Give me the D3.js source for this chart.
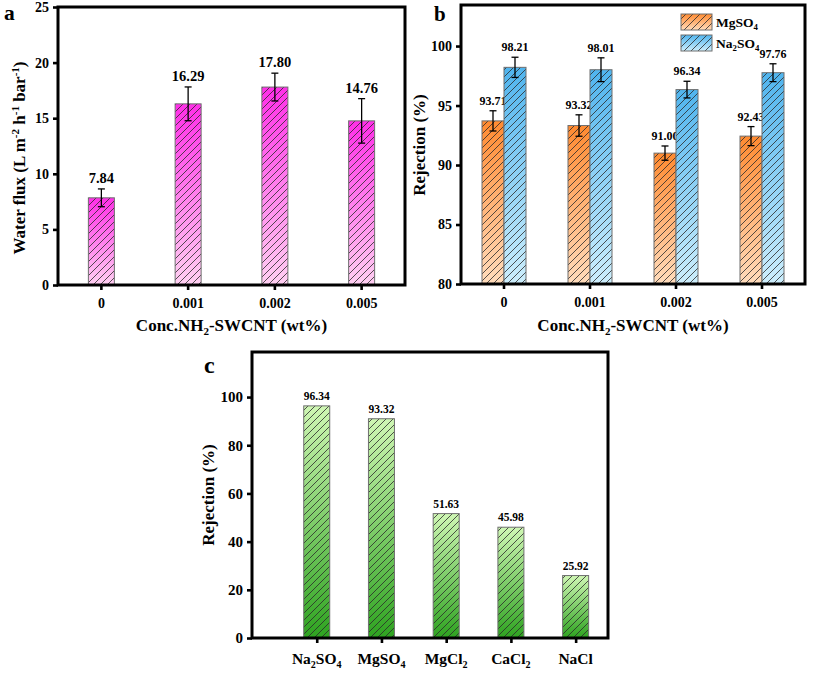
<!DOCTYPE html>
<html>
<head>
<meta charset="utf-8">
<script src="https://cdn.jsdelivr.net/npm/d3@7"></script>
<style>
  html, body { margin: 0; padding: 0; background: #fff; }
  svg text { font-family: "Liberation Serif", Tinos, "Times New Roman", "DejaVu Serif", serif !important; font-weight: bold; fill: #000; }
</style>
</head>
<body>
<svg id="chart" width="813" height="673"></svg>
<script>
// ---------- data ----------
const fluxCats = ["0", "0.001", "0.002", "0.005"];
const fluxValues = [7.84, 16.29, 17.80, 14.76];
const fluxErrors = [0.80, 1.52, 1.25, 2.00];
const fluxLabels = ["7.84", "16.29", "17.80", "14.76"];
const yTicksA = [0, 5, 10, 15, 20, 25];

const rejCats = ["0", "0.001", "0.002", "0.005"];
const seriesNames = ["MgSO4", "Na2SO4"];
const mgso4Values = [93.71, 93.32, 91.00, 92.43];
const mgso4Errors = [0.85, 0.90, 0.60, 0.80];
const na2so4Values = [98.21, 98.01, 96.34, 97.76];
const na2so4Errors = [0.85, 1.00, 0.70, 0.75];
const yTicksB = [80, 85, 90, 95, 100];

const saltCats = ["Na2SO4", "MgSO4", "MgCl2", "CaCl2", "NaCl"];
const saltBarValues = [96.34, 91.0, 51.63, 45.98, 25.92];
const saltLabels = ["96.34", "93.32", "51.63", "45.98", "25.92"];
const yTicksC = [0, 20, 40, 60, 80, 100];

// ---------- helpers ----------
const FONT = '"Liberation Serif", Tinos, "Times New Roman", "DejaVu Serif", serif';
const svg = d3.select("#chart").attr("font-family", FONT);
const defs = svg.append("defs");

function gradient(id, top, bottom) {
  const g = defs.append("linearGradient").attr("id", id)
    .attr("x1", 0).attr("y1", 0).attr("x2", 0).attr("y2", 1);
  g.append("stop").attr("offset", "0%").attr("stop-color", top);
  g.append("stop").attr("offset", "100%").attr("stop-color", bottom);
}
gradient("gPink", "#ff2ee8", "#ffd0f2");
gradient("gOrange", "#ff8a30", "#ffdcbc");
gradient("gBlue", "#4fb4ee", "#cdeefc");
gradient("gGreen", "#cff7b4", "#2ea320");

const hp = defs.append("pattern").attr("id", "hatch")
  .attr("patternUnits", "userSpaceOnUse").attr("width", 7).attr("height", 7);
hp.append("path").attr("d", "M0,7 L7,0 M-1,1 L1,-1 M6,8 L8,6")
  .attr("stroke", "#2a2a2a").attr("stroke-width", 0.8).attr("fill", "none");

function chemText(sel, str, size) {
  const parts = str.match(/[A-Za-z\.\-\s\(\)%]+|\d+/g);
  parts.forEach((p, i) => {
    const isSub = /^\d+$/.test(p) && i > 0;
    sel.append("tspan").text(p)
      .attr("font-size", isSub ? size * 0.65 : size)
      .attr("dy", isSub ? size * 0.25 : (i > 0 && /^\d+$/.test(parts[i - 1]) ? -size * 0.25 : 0));
  });
}

function richText(sel, parts, size) {
  let prev = 0;
  parts.forEach(([t, kind]) => {
    const off = kind === "sub" ? size * 0.25 : kind === "sup" ? -size * 0.38 : 0;
    sel.append("tspan").text(t)
      .attr("font-size", kind ? size * 0.65 : size)
      .attr("dy", off - prev);
    prev = off;
  });
}

function bar(g, x, y, w, h, grad) {
  g.append("rect").attr("x", x).attr("y", y).attr("width", w).attr("height", h)
    .attr("fill", `url(#${grad})`);
  g.append("rect").attr("x", x).attr("y", y).attr("width", w).attr("height", h)
    .attr("fill", "url(#hatch)").attr("stroke", "#6f6f6f").attr("stroke-width", 1);
}

function errBar(g, cx, yTop, yBot, cap) {
  g.append("line").attr("x1", cx).attr("x2", cx).attr("y1", yTop).attr("y2", yBot)
    .attr("stroke", "#000").attr("stroke-width", 1.3);
  [yTop, yBot].forEach(yy => g.append("line")
    .attr("x1", cx - cap).attr("x2", cx + cap).attr("y1", yy).attr("y2", yy)
    .attr("stroke", "#000").attr("stroke-width", 1.3));
}

function styleAxis(a, fs) {
  a.attr("font-family", FONT);
  a.select(".domain").remove();
  a.selectAll(".tick line").attr("stroke", "#000").attr("stroke-width", 2.6);
  a.selectAll(".tick text").attr("font-size", fs).attr("font-weight", "bold");
}

function frame(g, x0, y0, x1, y1) {
  g.append("rect").attr("x", x0).attr("y", y0).attr("width", x1 - x0).attr("height", y1 - y0)
    .attr("fill", "none").attr("stroke", "#000").attr("stroke-width", 3);
}

// ---------- panel a ----------
{
  const x0 = 58, x1 = 405, y0 = 7, y1 = 285;
  const g = svg.append("g");
  const x = d3.scaleBand().domain(fluxCats).range([x0, x1]);
  const y = d3.scaleLinear().domain([0, 25]).range([y1, y0]);
  const bw = 26;
  fluxCats.forEach((c, i) => {
    const cx = x(c) + x.bandwidth() / 2;
    bar(g, cx - bw / 2, y(fluxValues[i]), bw, y(0) - y(fluxValues[i]), "gPink");
    const top = y(fluxValues[i] + fluxErrors[i]);
    errBar(g, cx, top, y(fluxValues[i] - fluxErrors[i]), 3.5);
    g.append("text").attr("x", cx).attr("y", top - 6).attr("text-anchor", "middle")
      .attr("font-size", 14.5).text(fluxLabels[i]);
  });
  frame(g, x0, y0, x1, y1);
  const ax = g.append("g").attr("transform", `translate(0,${y1})`)
    .call(d3.axisBottom(x).tickSize(5).tickPadding(8).tickSizeOuter(0));
  styleAxis(ax, 14);
  const ay = g.append("g").attr("transform", `translate(${x0},0)`)
    .call(d3.axisLeft(y).tickValues(yTicksA).tickSize(5).tickPadding(4).tickSizeOuter(0));
  styleAxis(ay, 14);
  const xt = g.append("text").attr("x", (x0 + x1) / 2).attr("y", 331).attr("text-anchor", "middle");
  richText(xt, [["Conc.NH"], ["2", "sub"], ["-SWCNT (wt%)"]], 17);
  const yt = g.append("text").attr("transform", `translate(25,158) rotate(-90)`).attr("text-anchor", "middle");
  richText(yt, [["Water flux (L m"], ["-2", "sup"], [" h"], ["-1", "sup"], [" bar"], ["-1", "sup"], [")"]], 17);
  g.append("text").attr("x", 4).attr("y", 20).attr("font-size", 21.5).text("a");
}

// ---------- panel b ----------
{
  const x0 = 461, x1 = 805, y0 = 5, y1 = 284;
  const g = svg.append("g");
  const x = d3.scaleBand().domain(rejCats).range([x0, x1]);
  const y = d3.scaleLinear().domain([80, 103.45]).range([y1, y0]);
  const xs = d3.scaleBand().domain(seriesNames).range([-22, 22]);
  const vals = [mgso4Values, na2so4Values];
  const errs = [mgso4Errors, na2so4Errors];
  const grads = ["gOrange", "gBlue"];
  rejCats.forEach((c, i) => {
    const cx = x(c) + x.bandwidth() / 2;
    seriesNames.forEach((s, k) => {
      const bx = cx + xs(s);
      const v = vals[k][i];
      bar(g, bx, y(v), xs.bandwidth(), y(80) - y(v), grads[k]);
      const bc = bx + xs.bandwidth() / 2;
      const top = y(v + errs[k][i]);
      errBar(g, bc, top, y(v - errs[k][i]), 3.5);
      g.append("text").attr("x", bc).attr("y", top - 6).attr("text-anchor", "middle")
        .attr("font-size", 12).text(v.toFixed(2));
    });
  });
  frame(g, x0, y0, x1, y1);
  const ax = g.append("g").attr("transform", `translate(0,${y1})`)
    .call(d3.axisBottom(x).tickSize(5).tickPadding(8).tickSizeOuter(0));
  styleAxis(ax, 14);
  const ay = g.append("g").attr("transform", `translate(${x0},0)`)
    .call(d3.axisLeft(y).tickValues(yTicksB).tickSize(5).tickPadding(4).tickSizeOuter(0));
  styleAxis(ay, 14);
  const xt = g.append("text").attr("x", (x0 + x1) / 2).attr("y", 331).attr("text-anchor", "middle");
  richText(xt, [["Conc.NH"], ["2", "sub"], ["-SWCNT (wt%)"]], 17);
  g.append("text").attr("transform", `translate(425,145) rotate(-90)`).attr("text-anchor", "middle")
    .attr("font-size", 17).text("Rejection (%)");
  g.append("text").attr("x", 434).attr("y", 21).attr("font-size", 21).text("b");
  seriesNames.forEach((s, k) => {
    const ly = 14 + k * 21;
    bar(g, 681, ly, 31, 16, grads[k]);
    const t = g.append("text").attr("x", 716).attr("y", ly + 13);
    chemText(t, s, 13.5);
  });
}

// ---------- panel c ----------
{
  const x0 = 252, x1 = 608, y0 = 352, y1 = 638;
  const g = svg.append("g");
  const x = d3.scaleLinear().domain([0, 5.5]).range([x0, x1]);
  const y = d3.scaleLinear().domain([0, 118.7]).range([y1, y0]);
  const bw = 26;
  saltCats.forEach((c, i) => {
    const cx = x(i + 1);
    bar(g, cx - bw / 2, y(saltBarValues[i]), bw, y(0) - y(saltBarValues[i]), "gGreen");
    g.append("text").attr("x", cx).attr("y", y(saltBarValues[i]) - 6).attr("text-anchor", "middle")
      .attr("font-size", 11.5).text(saltLabels[i]);
  });
  frame(g, x0, y0, x1, y1);
  const ax = g.append("g").attr("transform", `translate(0,${y1})`)
    .call(d3.axisBottom(x).tickValues(saltCats.map((d, i) => i + 1)).tickFormat(() => "")
      .tickSize(5).tickSizeOuter(0));
  styleAxis(ax, 15);
  saltCats.forEach((c, i) => {
    const t = g.append("text").attr("x", x(i + 1)).attr("y", 664).attr("text-anchor", "middle");
    chemText(t, c, 15.5);
  });
  const ay = g.append("g").attr("transform", `translate(${x0},0)`)
    .call(d3.axisLeft(y).tickValues(yTicksC).tickSize(5).tickPadding(4).tickSizeOuter(0));
  styleAxis(ay, 15);
  g.append("text").attr("transform", `translate(214,495) rotate(-90)`).attr("text-anchor", "middle")
    .attr("font-size", 17).text("Rejection (%)");
  g.append("text").attr("x", 204).attr("y", 373).attr("font-size", 24).text("c");
}
</script>
</body>
</html>
